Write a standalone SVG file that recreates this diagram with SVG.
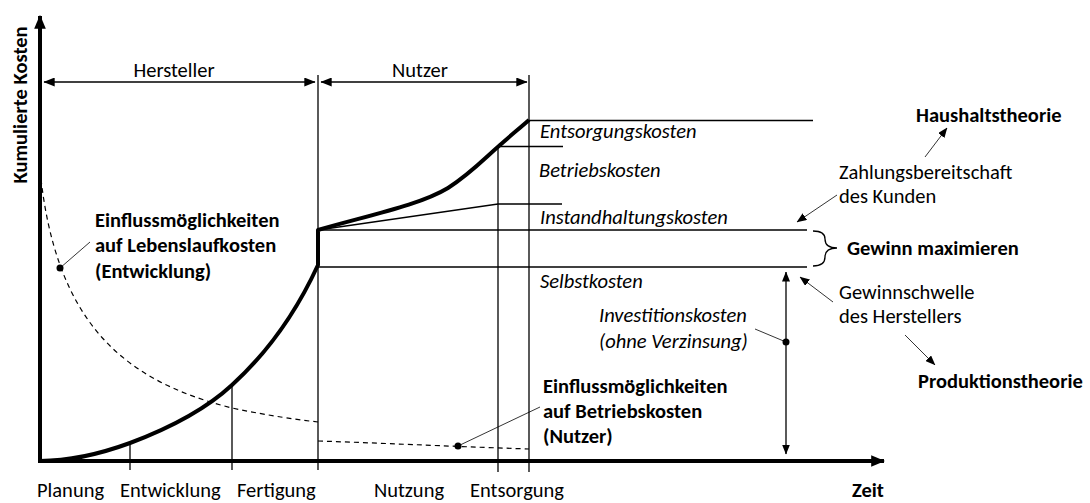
<svg xmlns="http://www.w3.org/2000/svg" width="1090" height="503" viewBox="0 0 1090 503">
  <style>
    text { font-family: Carlito, Lato, "Open Sans", sans-serif; font-size: 20.5px; fill: #000; }
    .b { font-weight: bold; }
    .i { font-style: italic; }
    .thin { stroke: #000; stroke-width: 1.3; fill: none; }
    .lead { stroke: #000; stroke-width: 0.8; fill: none; }
    .thick { stroke: #000; stroke-width: 4; fill: none; stroke-linejoin: round; }
    .dash { stroke: #000; stroke-width: 1.2; fill: none; stroke-dasharray: 5 4; }
  </style>
  <defs>
    <marker id="big" viewBox="0 0 12 10" refX="11" refY="5" markerWidth="14" markerHeight="12" markerUnits="userSpaceOnUse" orient="auto-start-reverse">
      <path d="M0,0 L12,5 L0,10 Z" fill="#000"/>
    </marker>
    <marker id="mid" viewBox="0 0 10 8" refX="9.5" refY="4" markerWidth="12" markerHeight="9" markerUnits="userSpaceOnUse" orient="auto-start-reverse">
      <path d="M0,0 L10,4 L0,8 Z" fill="#000"/>
    </marker>
    <marker id="small" viewBox="0 0 10 8" refX="9.5" refY="4" markerWidth="10" markerHeight="8" markerUnits="userSpaceOnUse" orient="auto-start-reverse">
      <path d="M0,0 L10,4 L0,8 Z" fill="#000"/>
    </marker>
  </defs>

  <!-- axes -->
  <g id="axes">
    <line x1="40" y1="463" x2="40" y2="16" stroke="#000" stroke-width="4" marker-end="url(#big)"/>
    <line x1="38" y1="461" x2="884" y2="461" stroke="#000" stroke-width="4" marker-end="url(#big)"/>
    <text class="b" transform="translate(27,105) rotate(-90)" text-anchor="middle">Kumulierte Kosten</text>
    <text class="b" x="852" y="497">Zeit</text>
  </g>

  <!-- phase boundaries and ticks -->
  <g id="phases">
    <line class="thin" x1="130" y1="443" x2="130" y2="470"/>
    <line class="thin" x1="232" y1="385" x2="232" y2="470"/>
    <line class="thin" x1="318" y1="75" x2="318" y2="470"/>
    <line class="thin" x1="498" y1="146" x2="498" y2="472"/>
    <line class="thin" x1="529" y1="75" x2="529" y2="472"/>
    <text x="37" y="497">Planung</text>
    <text x="120" y="497">Entwicklung</text>
    <text x="237" y="497">Fertigung</text>
    <text x="374" y="497">Nutzung</text>
    <text x="470" y="497">Entsorgung</text>
  </g>

  <!-- manufacturer / user spans -->
  <g id="spans">
    <line class="thin" x1="44" y1="82" x2="315" y2="82" stroke-width="1.8" marker-start="url(#mid)" marker-end="url(#mid)"/>
    <line class="thin" x1="321" y1="82" x2="527" y2="82" stroke-width="1.8" marker-start="url(#mid)" marker-end="url(#mid)"/>
    <text x="174" y="77" text-anchor="middle">Hersteller</text>
    <text x="420" y="77" text-anchor="middle">Nutzer</text>
  </g>

  <!-- cost curves -->
  <g id="curves">
    <path class="thick" d="M40,461 C70,461 100,454 130,443 C170,428 205,410 232,385 C265,355 295,315 318,265 L318,230 C370,215 420,205 448,188 C470,174 485,158 500,145 C510,136 520,128 529,120"/>
    <path class="thin" d="M318,230 L498,204 L562,204"/>
    <line class="thin" x1="498" y1="146.5" x2="563" y2="146.5"/>
    <line class="thin" x1="529" y1="120.5" x2="813" y2="120.5"/>
    <line class="thin" x1="318" y1="230" x2="807" y2="230"/>
    <line class="thin" x1="318" y1="267" x2="807" y2="267"/>
    <path class="thin" d="M813,231 Q825,231 825,239 Q825,248 837,248 Q825,248 825,257 Q825,266 813,266"/>
  </g>

  <g id="cost-labels">
    <text class="i" x="540" y="138">Entsorgungskosten</text>
    <text class="i" x="539" y="177">Betriebskosten</text>
    <text class="i" x="540" y="224">Instandhaltungskosten</text>
    <text class="i" x="540" y="288">Selbstkosten</text>
    <text class="b" x="847" y="255">Gewinn maximieren</text>
  </g>

  <!-- investment span -->
  <g id="investment">
    <line class="thin" x1="786" y1="272" x2="786" y2="454" marker-start="url(#small)" marker-end="url(#small)"/>
    <circle cx="786" cy="342" r="3.5" fill="#000"/>
    <line class="lead" x1="786" y1="342" x2="755" y2="329"/>
    <text class="i" x="599" y="322">Investitionskosten</text>
    <text class="i" x="599" y="348">(ohne Verzinsung)</text>
  </g>

  <!-- influence curves -->
  <g id="influence">
    <path class="dash" d="M40,170 C55,320 120,380 232,408 C270,416 300,420 318,422"/>
    <path class="dash" d="M318,441 C380,443 440,446 529,449"/>
    <circle cx="60" cy="268" r="3.5" fill="#000"/>
    <line class="lead" x1="60" y1="268" x2="90" y2="242"/>
    <circle cx="458" cy="446" r="3.5" fill="#000"/>
    <line class="lead" x1="458" y1="446" x2="540" y2="407"/>
    <text class="b" x="95" y="227">Einflussmöglichkeiten</text>
    <text class="b" x="95" y="252">auf Lebenslaufkosten</text>
    <text class="b" x="95" y="278">(Entwicklung)</text>
    <text class="b" x="543" y="393">Einflussmöglichkeiten</text>
    <text class="b" x="543" y="418">auf Betriebskosten</text>
    <text class="b" x="543" y="443">(Nutzer)</text>
  </g>

  <!-- theory annotations -->
  <g id="theories">
    <text class="b" x="916" y="122">Haushaltstheorie</text>
    <line class="lead" x1="925" y1="157" x2="947" y2="128" marker-end="url(#small)"/>
    <text x="839" y="179">Zahlungsbereitschaft</text>
    <text x="839" y="203">des Kunden</text>
    <line class="lead" x1="837" y1="195" x2="797" y2="222" marker-end="url(#small)"/>
    <text x="839" y="299">Gewinnschwelle</text>
    <text x="839" y="323">des Herstellers</text>
    <line class="lead" x1="833" y1="302" x2="800" y2="277" marker-end="url(#small)"/>
    <line class="lead" x1="905" y1="335" x2="935" y2="365" marker-end="url(#small)"/>
    <text class="b" x="918" y="388">Produktionstheorie</text>
  </g>
</svg>
